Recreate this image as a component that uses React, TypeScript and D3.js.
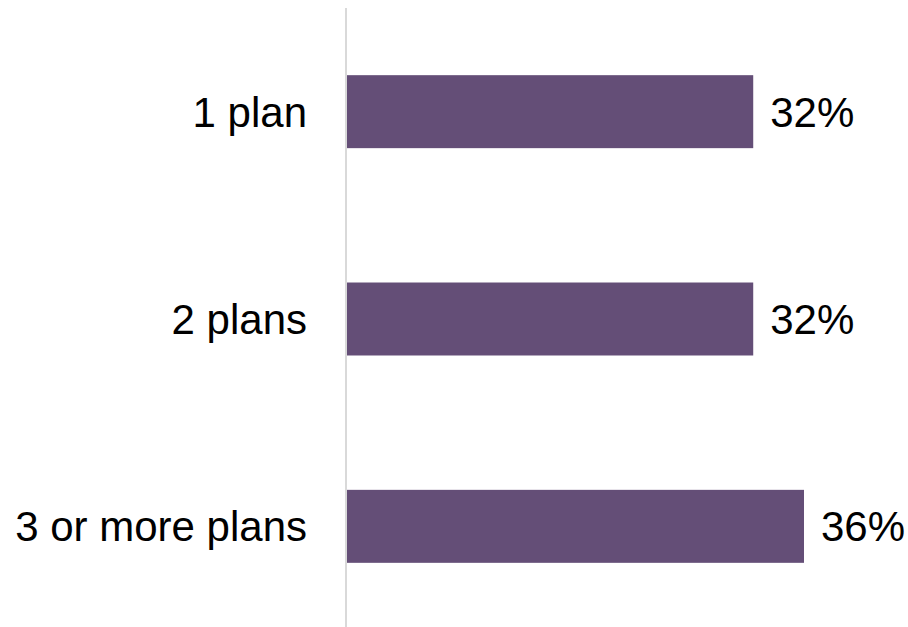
import React from "react";
import * as d3 from "d3";

const categories: string[] = ["1 plan", "2 plans", "3 or more plans"];
const values: number[] = [32, 32, 36];
const valueLabels: string[] = ["32%", "32%", "36%"];

const W = 908;
const H = 627;

export default function App() {
  const x = d3.scaleLinear().domain([0, 36]).range([347, 804]);
  const y = d3
    .scaleBand<string>()
    .domain(categories)
    .range([8, 630])
    .paddingInner(0.648)
    .paddingOuter(0.324);
  const font = "'Liberation Sans', Arial, sans-serif";
  return (
    <svg
      width={W}
      height={H}
      style={{ position: "absolute", left: 0, top: 0, background: "#fff" }}
    >
      <line x1={346} x2={346} y1={8} y2={627} stroke="#d9d9d9" strokeWidth={2} />
      {categories.map((c, i) => {
        const y0 = y(c)!;
        const bw = y.bandwidth();
        const cy = y0 + bw / 2;
        return (
          <g key={c}>
            <rect x={x(0)} y={y0} width={x(values[i]) - x(0)} height={bw} fill="#644e77" />
            <text
              x={307}
              y={cy}
              dy="0.36em"
              textAnchor="end"
              fontFamily={font}
              fontSize={42}
              fill="#000"
            >
              {c}
            </text>
            <text
              x={x(values[i]) + 17}
              y={cy}
              dy="0.36em"
              textAnchor="start"
              fontFamily={font}
              fontSize={42}
              fill="#000"
            >
              {valueLabels[i]}
            </text>
          </g>
        );
      })}
    </svg>
  );
}
